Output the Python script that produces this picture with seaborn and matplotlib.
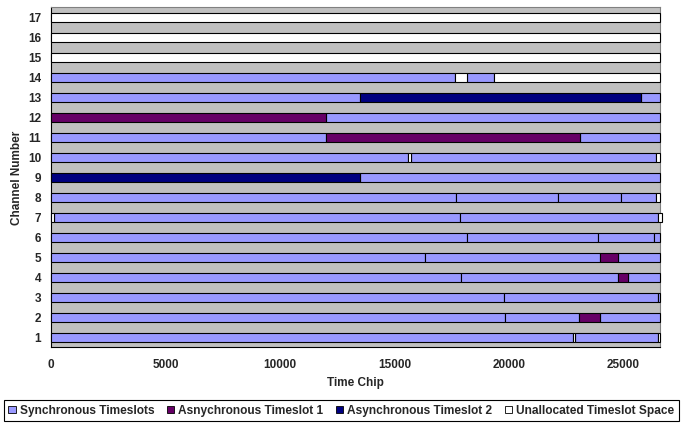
import matplotlib
matplotlib.use("Agg")
import matplotlib.pyplot as plt
import pandas as pd
import seaborn as sns
from matplotlib.patches import Patch
from matplotlib.ticker import FixedLocator

# Slot kinds: 0 = synchronous, 1 = async slot 1, 2 = async slot 2, 3 = unallocated
kind_labels = ["Synchronous Timeslots", "Asnychronous Timeslot 1",
               "Asynchronous Timeslot 2", "Unallocated Timeslot Space"]
kind_colors = ["#9999FF", "#660066", "#000080", "#FFFFFF"]

channels = list(range(1, 18))
x_ticks = [0, 5000, 10000, 15000, 20000, 25000]
frame_end = 26600

# One entry per timeslot segment: channel, start chip, end chip, kind
seg_channel = [1, 1, 1, 1,
               2, 2, 2, 2,
               3, 3, 3,
               4, 4, 4, 4,
               5, 5, 5, 5,
               6, 6, 6, 6,
               7, 7, 7, 7,
               8, 8, 8, 8, 8,
               9, 9,
               10, 10, 10, 10,
               11, 11, 11,
               12, 12,
               13, 13, 13,
               14, 14, 14, 14,
               15, 16, 17]
seg_start = [0, 22790, 22890, 26516,
             0, 19820, 23080, 24000,
             0, 19800, 26530,
             0, 17900, 24760, 25190,
             0, 16340, 23980, 24770,
             0, 18170, 23880, 26350,
             0, 130, 17850, 26500,
             0, 17690, 22130, 24900, 26430,
             0, 13500,
             0, 15580, 15730, 26440,
             0, 12000, 23110,
             0, 12000,
             0, 13490, 25760,
             0, 17660, 18190, 19340,
             0, 0, 0]
seg_end = [22790, 22890, 26516, 26600,
           19820, 23080, 24000, 26600,
           19800, 26530, 26600,
           17900, 24760, 25190, 26600,
           16340, 23980, 24770, 26600,
           18170, 23880, 26350, 26600,
           130, 17850, 26500, 26700,
           17690, 22130, 24900, 26430, 26600,
           13500, 26600,
           15580, 15730, 26440, 26600,
           12000, 23110, 26600,
           12000, 26600,
           13490, 25760, 26600,
           17660, 18190, 19340, 26600,
           26600, 26600, 26600]
seg_kind = [0, 3, 0, 3,
            0, 0, 1, 0,
            0, 0, 0,
            0, 0, 1, 0,
            0, 0, 1, 0,
            0, 0, 0, 0,
            3, 0, 0, 3,
            0, 0, 0, 0, 3,
            2, 0,
            0, 3, 0, 3,
            0, 1, 0,
            1, 0,
            0, 2, 0,
            0, 3, 0, 3,
            3, 3, 3]

segments = pd.DataFrame({"channel": seg_channel, "start": seg_start,
                         "end": seg_end, "kind": seg_kind})
segments["length"] = segments["end"] - segments["start"]

sns.set_style("white", {"axes.facecolor": "#C0C0C0",
                        "axes.edgecolor": "#808080"})
plt.rcParams["font.family"] = ["Liberation Sans", "DejaVu Sans"]
plt.rcParams["font.weight"] = "bold"

fig = plt.figure(figsize=(6.83, 4.26), dpi=100)
ax = fig.add_axes([0.0747, 0.1843, 0.8916, 0.7981])

for kind, grp in segments.groupby("kind"):
    ax.barh(grp["channel"], grp["length"], left=grp["start"], height=0.46,
            color=kind_colors[kind], edgecolor="black", linewidth=0.8,
            clip_on=False, zorder=3)

ax.set_xlim(0, frame_end)
ax.set_ylim(0.5, 17.5)

ax.set_xticks(x_ticks)
ax.set_xticklabels([str(t) for t in x_ticks], fontsize=8.5, fontweight="bold")
ax.set_yticks(channels)
ax.set_yticklabels([str(c) for c in channels], fontsize=8.5, fontweight="bold")
ax.yaxis.set_minor_locator(FixedLocator([c - 0.5 for c in channels] + [17.5]))
ax.tick_params(axis="y", which="major", length=0, pad=7)
ax.tick_params(axis="y", which="minor", length=3.5, direction="out",
               width=0.8, color="black")
ax.tick_params(axis="x", which="major", length=3.5, direction="out",
               width=0.8, color="black", pad=5)

for side in ("left", "bottom"):
    ax.spines[side].set_color("black")
    ax.spines[side].set_linewidth(0.8)
for side in ("top", "right"):
    ax.spines[side].set_color("#808080")
    ax.spines[side].set_linewidth(0.8)

ax.set_xlabel("Time Chip", fontsize=8.5, fontweight="bold", va="center")
ax.set_ylabel("Channel Number", fontsize=8.5, fontweight="bold", va="center")
ax.xaxis.set_label_coords(0.5, -0.104)
ax.yaxis.set_label_coords(-0.056, 0.5)

handles = [Patch(facecolor=c, edgecolor="black", linewidth=0.6, label=l)
           for c, l in zip(kind_colors, kind_labels)]
leg = fig.legend(handles=handles, loc="lower center", ncol=4,
                 bbox_to_anchor=(0.5, 0.011), frameon=True, fancybox=False,
                 facecolor="white", edgecolor="black", framealpha=1,
                 fontsize=8.6, handlelength=0.6, handleheight=0.6,
                 handletextpad=0.35, columnspacing=1.05,
                 borderpad=0.4, borderaxespad=0)
leg.get_frame().set_linewidth(0.8)
for t in leg.get_texts():
    t.set_fontweight("bold")

fig.savefig("out.png", dpi=100)
